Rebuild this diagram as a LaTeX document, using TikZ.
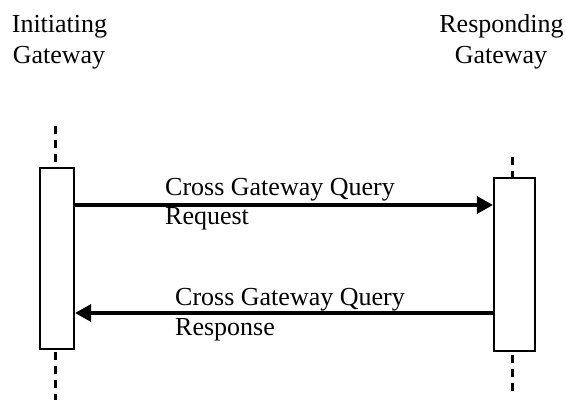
\documentclass[tikz,border=0pt]{standalone}
\usepackage{fontspec}
\setmainfont{Liberation Serif}
\usetikzlibrary{arrows.meta}
\begin{document}
\begin{tikzpicture}[x=1pt,y=-1pt,
  lbl/.style={inner sep=0pt, font=\fontsize{26}{30}\selectfont},
  actbox/.style={draw, line width=2.2pt, inner sep=0pt, fill=white},
  life/.style={line width=3pt, dash pattern=on 8pt off 6pt},
  msg/.style={line width=3.4pt, -{Triangle[length=16pt,width=17pt]}}]
\useasboundingbox (0,0) rectangle (566,400);
% headers
\node[lbl, anchor=base] (h1) at (59.5,32) {Initiating};
\node[lbl, anchor=base] (h2) at (59,63) {Gateway};
\node[lbl, anchor=base] (h3) at (501.5,32) {Responding};
\node[lbl, anchor=base] (h4) at (501,63) {Gateway};
% lifeline coordinates
\coordinate (l1) at (55,126);
\coordinate (l2) at (55,167);
\coordinate (l3) at (55,352);
\coordinate (l4) at (55,400);
\coordinate (r1) at (512,157);
\coordinate (r2) at (512,177);
\coordinate (r3) at (512,355);
\coordinate (r4) at (512,392);
\draw[life] (l1) -- (l2);
\draw[life] (l3) -- (l4);
\draw[life] (r1) -- (r2);
\draw[life] (r3) -- (r4);
% activation boxes
\node[actbox, minimum width=34pt, minimum height=181pt] (lbox) at (57,258.5) {};
\node[actbox, minimum width=41pt, minimum height=173pt] (rbox) at (514.5,264.5) {};
% messages
\coordinate (reqy) at (0,205);
\coordinate (resy) at (0,313);
\draw[msg] (lbox.east |- reqy) -- (rbox.west |- reqy);
\draw[msg] (rbox.west |- resy) -- (lbox.east |- resy);
% labels
\node[lbl, anchor=base west] (q1) at (165,195) {Cross Gateway Query};
\node[lbl, anchor=base west] (q2) at (165,224) {Request};
\node[lbl, anchor=base west] (p1) at (175,305) {Cross Gateway Query};
\node[lbl, anchor=base west] (p2) at (175,335) {Response};
\end{tikzpicture}
\end{document}
